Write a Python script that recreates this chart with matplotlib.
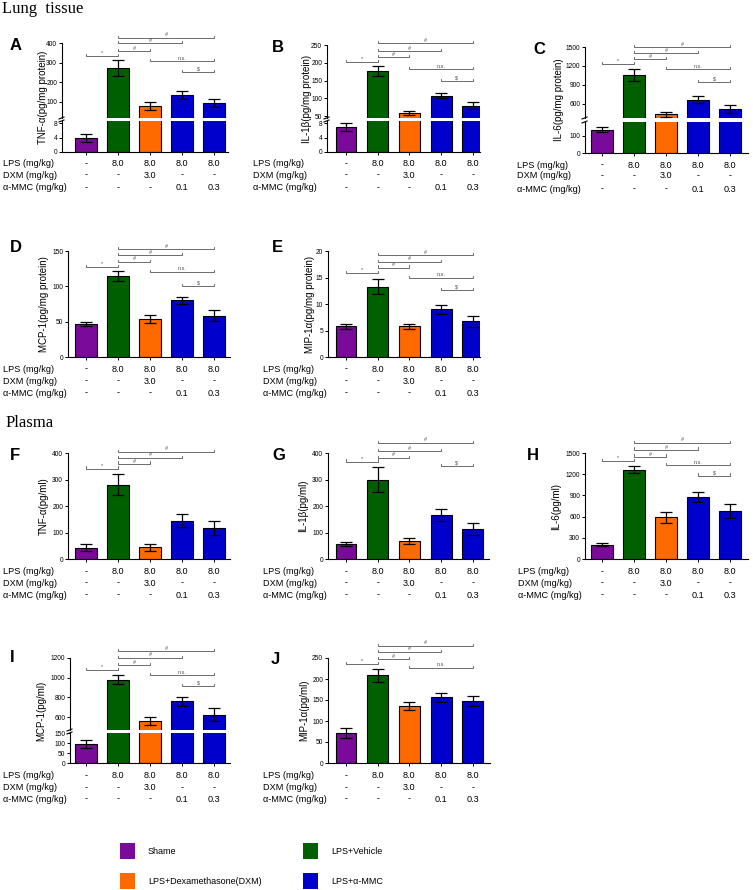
"""Citoquinas en tejido pulmonar y plasma - barras con eje cortado"""

import numpy as np
import matplotlib.pyplot as plt
from matplotlib.lines import Line2D
from matplotlib.patches import Rectangle
from matplotlib.transforms import blended_transform_factory

plt.rcParams['font.family'] = ['Liberation Sans', 'DejaVu Sans']

# Grupos y tratamientos
grupos = ['Shame', 'LPS+Vehicle', 'LPS+Dexamethasone(DXM)', 'LPS+α-MMC']
fila_lps = ['-', '8.0', '8.0', '8.0', '8.0']
fila_dxm = ['-', '-', '3.0', '-', '-']
fila_mmc = ['-', '-', '-', '0.1', '0.3']
nombres_filas = ['LPS (mg/kg)', 'DXM (mg/kg)', 'α-MMC (mg/kg)']

# Tejido pulmonar (media y error)
tnf_lung = [3.8, 273, 80, 135, 93]
tnf_lung_err = [1.1, 40, 20, 20, 20]
il1b_lung = [7.0, 178, 58, 107, 79]
il1b_lung_err = [1.0, 14, 6, 7, 10]
il6_lung = [135, 1056, 430, 665, 520]
il6_lung_err = [13, 90, 35, 58, 60]
mcp1_lung = [47, 114, 54, 80, 58.5]
mcp1_lung_err = [2.5, 7, 6, 5, 7.5]
mip1a_lung = [5.8, 13.3, 5.8, 9.0, 6.7]
mip1a_lung_err = [0.5, 1.5, 0.5, 0.8, 1.0]

# Plasma
tnf_plasma = [43, 281, 44, 145, 116]
tnf_plasma_err = [13, 40, 12, 23, 27]
il1b_plasma = [56, 300, 68, 166, 114]
il1b_plasma_err = [8, 48, 10, 21, 23]
il6_plasma = [205, 1265, 590, 877, 678]
il6_plasma_err = [28, 55, 78, 75, 98]
mcp1_plasma = [95, 980, 558, 760, 625]
mcp1_plasma_err = [20, 45, 40, 45, 62]
mip1a_plasma = [71, 209, 136, 156, 148]
mip1a_plasma_err = [12, 16, 10, 10, 12]

# Comparaciones (barra i, barra j, etiqueta)
comp_todas = [(0, 1, '*'), (1, 2, '#'), (1, 3, '#'), (1, 4, '#'), (2, 4, 'n.s.'), (3, 4, '$')]
comp_f = comp_todas[:4]
comp_g = comp_todas[:4] + [(3, 4, '$')]
comp_j = comp_todas[:5]

# Colores
morado, verde, naranja, azul = '#7a0a99', '#006000', '#ff6a00', '#0000cc'
colores_barras = [morado, verde, naranja, azul, azul]

W, H = 753, 890
fig = plt.figure(figsize=(W / 100, H / 100), dpi=100)


def fx(x):
    return x / W


def fy(y):
    return 1 - y / H


# columnas: (centro primera barra, separación) en pixeles
columnas = [(86, 32), (346, 31.7), (602, 32)]

paneles = [
    dict(letra='A', yl='TNF-α(pg/mg protein)', y=tnf_lung, e=tnf_lung_err, col=0, izq=62, der=228,
         sup=(43, 118), inf=(121, 152), lim_sup=(17, 400), lim_inf=(0, 8.6),
         t_sup=[100, 200, 300, 400], t_inf=[0, 4, 8], letra_xy=(10, 45), dyl=19,
         filas=(3, 164, 175, 188), comp=comp_todas, comp_y=[56, 51, 43, 38, 61, 72]),
    dict(letra='B', yl='IL-1β(pg/mg protein)', y=il1b_lung, e=il1b_lung_err, col=1, izq=327, der=480,
         sup=(45, 118), inf=(121, 152), lim_sup=(44.4, 250), lim_inf=(0, 8.7),
         t_sup=[50, 100, 150, 200, 250], t_inf=[0, 4, 8], letra_xy=(272, 47), dyl=20,
         filas=(253, 164, 175, 188), comp=comp_todas, comp_y=[62, 57, 51, 43, 69, 81]),
    dict(letra='C', yl='IL-6(pg/mg protein)', y=il6_lung, e=il6_lung_err, col=2, izq=585, der=748,
         sup=(47, 118), inf=(122, 153), lim_sup=(373, 1500), lim_inf=(0, 179),
         t_sup=[600, 900, 1200, 1500], t_inf=[0, 100], letra_xy=(533, 50), dyl=26,
         filas=(517, 165, 176, 189), comp=comp_todas, comp_y=[64, 59, 53, 47, 69, 82]),
    dict(letra='D', yl='MCP-1(pg/mg protein)', y=mcp1_lung, e=mcp1_lung_err, col=0, izq=68, der=230,
         ax=(251, 357), lim=(0, 150), t=[0, 50, 100, 150], letra_xy=(10, 247), dyl=24,
         filas=(3, 369, 381, 393), comp=comp_todas, comp_y=[267, 262, 255, 249, 272, 286]),
    dict(letra='E', yl='MIP-1α(pg/mg protein)', y=mip1a_lung, e=mip1a_lung_err, col=1, izq=328, der=480,
         ax=(251, 357), lim=(0, 20), t=[0, 5, 10, 15, 20], letra_xy=(272, 247), dyl=18,
         filas=(263, 369, 381, 393), comp=comp_todas, comp_y=[273, 268, 262, 255, 278, 290]),
    dict(letra='F', yl='TNF-α(pg/ml)', y=tnf_plasma, e=tnf_plasma_err, col=0, izq=68, der=230,
         ax=(453, 559), lim=(0, 400), t=[0, 100, 200, 300, 400], letra_xy=(10, 455), dyl=24,
         filas=(3, 572, 583, 595), comp=comp_f, comp_y=[469, 464, 458, 452]),
    dict(letra='G', yl='IL-1β(pg/ml)', y=il1b_plasma, e=il1b_plasma_err, col=1, izq=328, der=489,
         ax=(453, 559), lim=(0, 400), t=[0, 100, 200, 300, 400], letra_xy=(272, 455), dyl=25,
         filas=(263, 572, 583, 595), comp=comp_g, comp_y=[462, 458, 451, 443, 466]),
    dict(letra='H', yl='IL-6(pg/ml)', y=il6_plasma, e=il6_plasma_err, col=2, izq=585, der=748,
         ax=(453, 559), lim=(0, 1500), t=[0, 300, 600, 900, 1200, 1500], letra_xy=(527, 455), dyl=29,
         filas=(518, 572, 583, 595), comp=comp_todas, comp_y=[461, 457, 450, 443, 465, 476]),
    dict(letra='I', yl='MCP-1(pg/ml)', y=mcp1_plasma, e=mcp1_plasma_err, col=0, izq=70, der=230,
         sup=(658, 730), inf=(733, 763), lim_sup=(468, 1200), lim_inf=(0, 150),
         t_sup=[600, 800, 1000, 1200], t_inf=[0, 50, 100, 150], letra_xy=(10, 658), dyl=29,
         filas=(3, 776, 788, 799), comp=comp_todas, comp_y=[670, 665, 658, 651, 675, 686]),
    dict(letra='J', yl='MIP-1α(pg/ml)', y=mip1a_plasma, e=mip1a_plasma_err, col=1, izq=328, der=490,
         ax=(658, 763), lim=(0, 250), t=[0, 50, 100, 150, 200, 250], letra_xy=(271, 660), dyl=24,
         filas=(263, 776, 788, 799), comp=comp_j, comp_y=[664, 659, 652, 646, 668]),
]


def nuevo_eje(p, arriba, abajo):
    c0, sp = columnas[p['col']]
    ax = fig.add_axes([fx(p['izq']), fy(abajo), (p['der'] - p['izq']) / W, (abajo - arriba) / H])
    ax.set_xlim((p['izq'] - c0) / sp, (p['der'] - c0) / sp)
    x = np.arange(len(p['y']))
    ax.bar(x, p['y'], width=0.66, color=colores_barras, edgecolor='black', linewidth=0.8, zorder=2)
    ax.errorbar(x, p['y'], yerr=p['e'], fmt='none', ecolor='black', elinewidth=0.9,
                capsize=4.5, capthick=0.9, zorder=3)
    for s in ['top', 'right']:
        ax.spines[s].set_visible(False)
    for s in ['left', 'bottom']:
        ax.spines[s].set_linewidth(0.8)
    ax.set_xticks(x)
    ax.set_xticklabels([])
    ax.tick_params(axis='x', length=2, width=0.7)
    ax.tick_params(axis='y', length=2.5, width=0.7, labelsize=4.8, pad=1)
    return ax


for p in paneles:
    if 'sup' in p:
        ax_top = nuevo_eje(p, *p['sup'])
        ax_top.set_ylim(*p['lim_sup'])
        ax_top.set_yticks(p['t_sup'])
        ax_top.spines['bottom'].set_visible(False)
        ax_top.tick_params(axis='x', length=0)
        ax_bot = nuevo_eje(p, *p['inf'])
        ax_bot.set_ylim(*p['lim_inf'])
        ax_bot.set_yticks(p['t_inf'])
        arriba, abajo = p['sup'][0], p['inf'][1]
        # marcas del corte en el eje y
        for yb in (p['sup'][1], p['inf'][0]):
            fig.add_artist(Line2D([fx(p['izq'] - 3), fx(p['izq'] + 2)], [fy(yb + 1), fy(yb - 1)],
                                  color='black', lw=0.8))
    else:
        ax_top = nuevo_eje(p, *p['ax'])
        ax_top.set_ylim(*p['lim'])
        ax_top.set_yticks(p['t'])
        ax_bot = ax_top
        arriba, abajo = p['ax']

    # letra del panel y etiqueta del eje y
    fig.text(fx(p['letra_xy'][0]), fy(p['letra_xy'][1]), p['letra'], fontsize=12,
             fontweight='bold', ha='left', va='center')
    fig.text(fx(p['izq'] - p['dyl']), fy((arriba + abajo) / 2), p['yl'], rotation=90,
             fontsize=7, ha='center', va='center')

    # corchetes de significancia
    tr = blended_transform_factory(ax_top.transData, fig.transFigure)
    for (i, j, txt), yp in zip(p['comp'], p['comp_y']):
        fig.add_artist(Line2D([i, i, j, j], [fy(yp - 2.5), fy(yp), fy(yp), fy(yp - 2.5)],
                              transform=tr, color='#555555', lw=0.6))
        fig.text((i + j) / 2, fy(yp - 0.5), txt, transform=tr, ha='center', va='bottom',
                 fontsize=4, color='#555555')

    # tabla de tratamientos
    trb = blended_transform_factory(ax_bot.transData, fig.transFigure)
    x0 = p['filas'][0]
    for nombre, fila, yp in zip(nombres_filas, [fila_lps, fila_dxm, fila_mmc], p['filas'][1:]):
        fig.text(fx(x0), fy(yp), nombre, fontsize=6.6, ha='left', va='center')
        for i, v in enumerate(fila):
            fig.text(i, fy(yp), v, transform=trb, fontsize=6.6, ha='center', va='center')

# Títulos de sección
fig.text(fx(2), fy(9), 'Lung  tissue', family='Liberation Serif', fontsize=12, va='center')
fig.text(fx(6), fy(423), 'Plasma', family='Liberation Serif', fontsize=12, va='center')

# Leyenda
leyenda = [(grupos[0], morado, 120, 851), (grupos[1], verde, 303, 851),
           (grupos[2], naranja, 120, 881), (grupos[3], azul, 303, 881)]
for nombre, c, xl, yl in leyenda:
    fig.add_artist(Rectangle((fx(xl), fy(yl + 8)), 15 / W, 16 / H, transform=fig.transFigure,
                             facecolor=c, edgecolor='none'))
    fig.text(fx(xl + 28), fy(yl), nombre, fontsize=6.5, va='center', ha='left')

fig.savefig('out.png', dpi=100)
